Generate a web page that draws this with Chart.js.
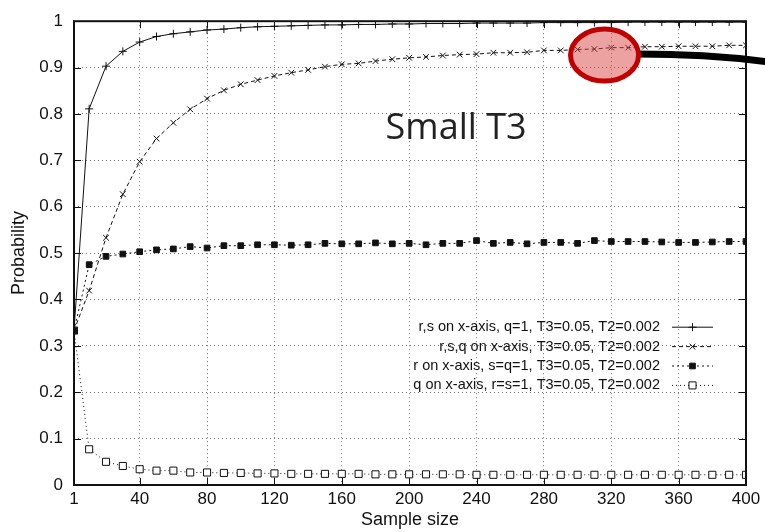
<!DOCTYPE html>
<html>
<head>
<meta charset="utf-8">
<title>Probability vs sample size</title>
<script src="https://cdn.jsdelivr.net/npm/chart.js@4.4.1/dist/chart.umd.min.js"></script>
<style>
    html, body { margin: 0; padding: 0; background: #fff; }
    #wrap { width: 765px; height: 532px; }
</style>
</head>
<body>
<div id="wrap"><canvas id="probChart" width="765" height="532"></canvas></div>
<script>
// ========================================
// PROBABILITY vs SAMPLE SIZE (Small T3)
// ========================================

// Sample sizes (x values)
const sampleSizes = [1, 10, 20, 30, 40, 50, 60, 70, 80, 90, 100, 110, 120, 130, 140, 150, 160, 170, 180, 190, 200,
    210, 220, 230, 240, 250, 260, 270, 280, 290, 300, 310, 320, 330, 340, 350, 360, 370, 380, 390, 400];

// r,s on x-axis, q=1
const rsProb = [0.333, 0.811, 0.903, 0.935, 0.955, 0.967, 0.973, 0.977, 0.981, 0.983, 0.986, 0.988, 0.989, 0.990, 0.991, 0.992, 0.992, 0.993, 0.993, 0.994, 0.994,
    0.995, 0.995, 0.995, 0.996, 0.996, 0.996, 0.996, 0.997, 0.997, 0.997, 0.997, 0.997, 0.998, 0.998, 0.998, 0.998, 0.998, 0.998, 0.998, 0.998];

// r,s,q on x-axis
const rsqProb = [0.333, 0.419, 0.533, 0.627, 0.697, 0.747, 0.781, 0.810, 0.833, 0.851, 0.864, 0.873, 0.882, 0.889, 0.895, 0.902, 0.907, 0.909, 0.914, 0.918, 0.921,
    0.923, 0.926, 0.928, 0.929, 0.932, 0.932, 0.933, 0.937, 0.937, 0.939, 0.940, 0.943, 0.943, 0.945, 0.945, 0.946, 0.946, 0.946, 0.948, 0.948];

// r on x-axis, s=q=1
const rProb = [0.333, 0.475, 0.493, 0.498, 0.503, 0.507, 0.509, 0.514, 0.511, 0.516, 0.516, 0.518, 0.518, 0.517, 0.518, 0.521, 0.520, 0.520, 0.522, 0.520, 0.521,
    0.518, 0.521, 0.521, 0.527, 0.521, 0.523, 0.520, 0.523, 0.523, 0.521, 0.527, 0.525, 0.525, 0.525, 0.524, 0.523, 0.523, 0.524, 0.525, 0.525];

// q on x-axis, r=s=1
const qProb = [0.333, 0.077, 0.050, 0.041, 0.034, 0.031, 0.031, 0.027, 0.027, 0.026, 0.026, 0.025, 0.025, 0.024, 0.024, 0.024, 0.024, 0.024, 0.023, 0.023, 0.023,
    0.023, 0.023, 0.023, 0.022, 0.022, 0.022, 0.022, 0.022, 0.022, 0.022, 0.022, 0.022, 0.022, 0.022, 0.022, 0.022, 0.022, 0.022, 0.022, 0.022];

const seriesLabels = [
    'r,s on x-axis, q=1, T3=0.05, T2=0.002',
    'r,s,q on x-axis, T3=0.05, T2=0.002',
    'r on x-axis, s=q=1, T3=0.05, T2=0.002',
    'q on x-axis, r=s=1, T3=0.05, T2=0.002'
];

// Tick labels
const xTickValues = [1, 40, 80, 120, 160, 200, 240, 280, 320, 360, 400];
const yTickValues = [0, 0.1, 0.2, 0.3, 0.4, 0.5, 0.6, 0.7, 0.8, 0.9, 1];

// Annotation text
const noteText = 'Small T3';

const FONT = '"Liberation Sans", Arial, Helvetica, sans-serif';
const INK = '#111';

function toPoints(values) {
    return sampleSizes.map((x, i) => ({ x: x, y: values[i] }));
}

// Khung + vạch chia hướng vào trong (kiểu gnuplot)
const frameTicks = {
    id: 'frameTicks',
    afterDatasetsDraw(chart) {
        const { ctx, chartArea: a, scales: { x, y } } = chart;
        ctx.save();
        ctx.strokeStyle = INK;
        ctx.lineWidth = 1;
        ctx.beginPath();
        x.ticks.forEach(t => {
            const px = Math.round(x.getPixelForValue(t.value)) + 0.5;
            ctx.moveTo(px, a.bottom); ctx.lineTo(px, a.bottom - 7);
            ctx.moveTo(px, a.top); ctx.lineTo(px, a.top + 7);
        });
        y.ticks.forEach(t => {
            const py = Math.round(y.getPixelForValue(t.value)) + 0.5;
            ctx.moveTo(a.left, py); ctx.lineTo(a.left + 7, py);
            ctx.moveTo(a.right, py); ctx.lineTo(a.right - 7, py);
        });
        ctx.stroke();
        ctx.lineWidth = 2;
        ctx.strokeRect(a.left, a.top, a.right - a.left, a.bottom - a.top);
        ctx.restore();
    }
};

// Chú thích nằm trong vùng vẽ, chữ canh phải, mẫu đường ở bên phải
const insideLegend = {
    id: 'insideLegend',
    afterDatasetsDraw(chart) {
        const { ctx, chartArea: a } = chart;
        const textRight = a.right - 86;
        const lineStart = a.right - 74;
        const lineEnd = a.right - 33;
        let rowY = a.top + 306;
        ctx.save();
        ctx.font = '14.5px ' + FONT;
        ctx.textAlign = 'right';
        ctx.textBaseline = 'middle';
        chart.data.datasets.forEach(ds => {
            ctx.fillStyle = INK;
            ctx.fillText(ds.label, textRight, rowY);
            ctx.strokeStyle = ds.borderColor;
            ctx.lineWidth = ds.borderWidth;
            ctx.setLineDash(ds.borderDash || []);
            ctx.beginPath();
            ctx.moveTo(lineStart, rowY);
            ctx.lineTo(lineEnd, rowY);
            ctx.stroke();
            ctx.setLineDash([]);
            ctx.fillStyle = ds.pointBackgroundColor;
            ctx.strokeStyle = ds.pointBorderColor;
            ctx.lineWidth = ds.pointBorderWidth;
            Chart.helpers.drawPoint(ctx, {
                pointStyle: ds.pointStyle,
                radius: ds.pointRadius,
                rotation: 0,
                borderWidth: ds.pointBorderWidth
            }, (lineStart + lineEnd) / 2, rowY);
            rowY += 19.4;
        });
        ctx.restore();
    }
};

// Vòng tròn đỏ + mũi chỉ đen + chữ "Small T3"
const callout = {
    id: 'callout',
    afterDraw(chart) {
        const { ctx, scales: { x, y } } = chart;
        const o = chart.options.plugins.callout;
        const cx = x.getPixelForValue(o.at[0]);
        const cy = y.getPixelForValue(o.at[1]);

        ctx.save();
        // đường chỉ
        ctx.strokeStyle = '#000';
        ctx.lineWidth = 7;
        ctx.beginPath();
        ctx.moveTo(cx + o.rx - 2, cy - 1);
        ctx.quadraticCurveTo(cx + o.rx + 70, cy - 1, chart.width + 5, cy + 7);
        ctx.stroke();

        // elip
        ctx.beginPath();
        ctx.ellipse(cx, cy, o.rx, o.ry, 0, 0, Math.PI * 2);
        ctx.fillStyle = 'rgba(220, 70, 70, 0.5)';
        ctx.fill();
        ctx.lineWidth = 5;
        ctx.strokeStyle = '#c00000';
        ctx.stroke();

        // chữ
        ctx.fillStyle = '#222';
        ctx.font = o.fontSize + 'px "Open Sans", "Noto Sans", sans-serif';
        ctx.textAlign = 'left';
        ctx.textBaseline = 'alphabetic';
        ctx.fillText(noteText, x.getPixelForValue(o.textAt[0]), y.getPixelForValue(o.textAt[1]));
        ctx.restore();
    }
};

function initProbChart() {
    const ctx = document.getElementById('probChart');

    const baseLine = {
        borderColor: INK,
        borderWidth: 1,
        pointBorderColor: INK,
        pointBorderWidth: 1,
        fill: false,
        tension: 0
    };

    new Chart(ctx, {
        type: 'line',
        data: {
            datasets: [
                Object.assign({}, baseLine, {
                    label: seriesLabels[0], data: toPoints(rsProb),
                    pointStyle: 'cross', pointRadius: 4, pointBackgroundColor: INK, borderDash: []
                }),
                Object.assign({}, baseLine, {
                    label: seriesLabels[1], data: toPoints(rsqProb),
                    pointStyle: 'crossRot', pointRadius: 4, pointBackgroundColor: INK, borderDash: [4, 3]
                }),
                Object.assign({}, baseLine, {
                    label: seriesLabels[2], data: toPoints(rProb),
                    pointStyle: 'rect', pointRadius: 4, pointBackgroundColor: INK, borderDash: [2, 3]
                }),
                Object.assign({}, baseLine, {
                    label: seriesLabels[3], data: toPoints(qProb),
                    pointStyle: 'rect', pointRadius: 5, pointBackgroundColor: '#fff', borderDash: [1, 3]
                })
            ]
        },
        options: {
            responsive: false,
            animation: false,
            devicePixelRatio: 1,
            layout: { padding: { top: 20, right: 19, left: 0, bottom: 0 } },
            plugins: {
                legend: { display: false },
                tooltip: { enabled: false },
                callout: { at: [316, 0.927], rx: 34, ry: 26, textAt: [186, 0.745], fontSize: 36 }
            },
            scales: {
                x: {
                    type: 'linear',
                    min: 1,
                    max: 400,
                    afterBuildTicks: scale => { scale.ticks = xTickValues.map(v => ({ value: v })); },
                    afterFit: scale => { scale.height = 47; },
                    ticks: {
                        autoSkip: false,
                        maxRotation: 0,
                        padding: 4,
                        color: INK,
                        font: { size: 17, family: FONT }
                    },
                    grid: { color: 'rgba(0,0,0,0.55)', lineWidth: 1, drawTicks: false },
                    border: { display: false, dash: [1, 3] },
                    title: {
                        display: true,
                        text: 'Sample size',
                        color: INK,
                        font: { size: 18, family: FONT },
                        padding: { top: 0, bottom: 1 }
                    }
                },
                y: {
                    min: 0,
                    max: 1,
                    afterBuildTicks: scale => { scale.ticks = yTickValues.map(v => ({ value: v })); },
                    afterFit: scale => { scale.width = 74; },
                    ticks: {
                        padding: 11,
                        color: INK,
                        font: { size: 17, family: FONT },
                        callback: v => String(Number(v.toFixed(1)))
                    },
                    grid: { color: 'rgba(0,0,0,0.55)', lineWidth: 1, drawTicks: false },
                    border: { display: false, dash: [1, 3] },
                    title: {
                        display: true,
                        text: 'Probability',
                        color: INK,
                        font: { size: 18, family: FONT },
                        padding: { top: 8, bottom: 0 }
                    }
                }
            }
        },
        plugins: [frameTicks, insideLegend, callout]
    });
}

document.addEventListener('DOMContentLoaded', function () {
    if (typeof Chart !== 'undefined') {
        initProbChart();
    } else {
        console.error('Chart.js not loaded');
    }
});
</script>
</body>
</html>
